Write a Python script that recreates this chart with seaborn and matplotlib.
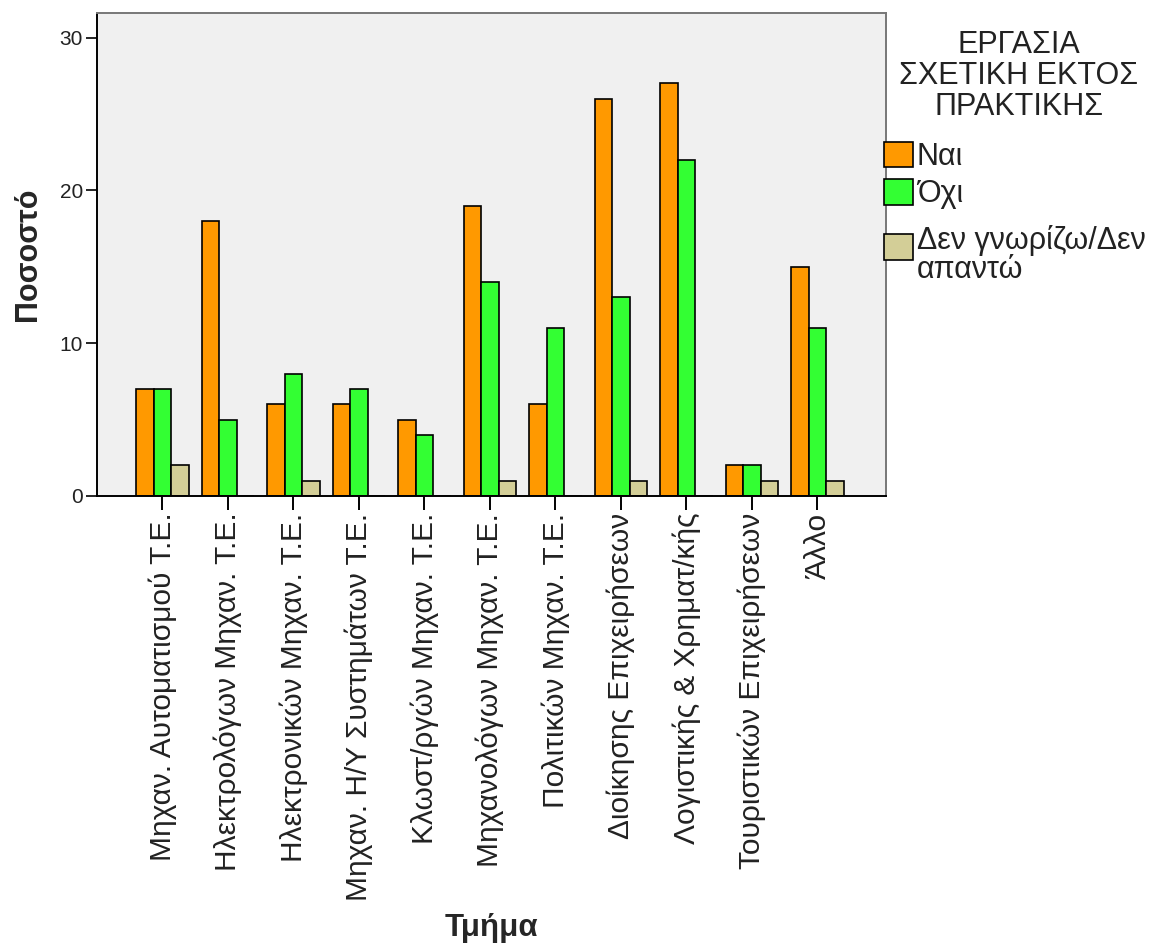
import matplotlib
matplotlib.use("Agg")
import matplotlib.pyplot as plt
import matplotlib.transforms as mtransforms
import seaborn as sns
import pandas as pd

departments = [
    "Μηχαν. Αυτοματισμού Τ.Ε.",
    "Ηλεκτρολόγων Μηχαν. Τ.Ε.",
    "Ηλεκτρονικών Μηχαν. Τ.Ε.",
    "Μηχαν. Η/Υ Συστημάτων Τ.Ε.",
    "Κλωστ/ργών Μηχαν. Τ.Ε.",
    "Μηχανολόγων Μηχαν. Τ.Ε.",
    "Πολιτικών Μηχαν. Τ.Ε.",
    "Διοίκησης Επιχειρήσεων",
    "Λογιστικής & Χρηματ/κής",
    "Τουριστικών Επιχειρήσεων",
    "Άλλο",
]
answers = ["Ναι", "Όχι", "Δεν γνωρίζω/Δεν\nαπαντώ"]
legend_title = "ΕΡΓΑΣΙΑ\nΣΧΕΤΙΚΗ ΕΚΤΟΣ\nΠΡΑΚΤΙΚΗΣ"

yes_pct = [7, 18, 6, 6, 5, 19, 6, 26, 27, 2, 15]
no_pct = [7, 5, 8, 7, 4, 14, 11, 13, 22, 2, 11]
dk_pct = [2, 0, 1, 0, 0, 1, 0, 1, 0, 1, 1]

colors = ["#FF9900", "#33FF33", "#D3CE97"]

rows = []
for series, vals in zip(answers, [yes_pct, no_pct, dk_pct]):
    for dep, v in zip(departments, vals):
        rows.append({"Τμήμα": dep, "Απάντηση": series, "Ποσοστό": v})
df = pd.DataFrame(rows)

sns.set_style("white")
plt.rcParams["font.family"] = ["Liberation Sans", "DejaVu Sans"]

fig = plt.figure(figsize=(11.54, 9.44), dpi=100)
ax = fig.add_axes([0.084, 0.4746, 0.684, 0.5114])
ax.set_facecolor("#F0F0F0")

sns.barplot(
    data=df, x="Τμήμα", y="Ποσοστό", hue="Απάντηση",
    order=departments, hue_order=answers, palette=colors, saturation=1,
    edgecolor="black", linewidth=1.2, width=0.8, ax=ax,
)

ax.set_xlim(-1.0, 11.05)
ax.set_ylim(0, 31.6)
ax.set_yticks([0, 10, 20, 30])
ax.tick_params(axis="y", labelsize=15, length=8, width=1.2, color="black",
               direction="out", left=True, pad=2, labelcolor="#222222")
ax.tick_params(axis="x", labelsize=21.5, length=10, width=1.4, color="black",
               direction="out", bottom=True, pad=2, labelcolor="#222222")
plt.setp(ax.get_xticklabels(), rotation=90, ha="center", va="top")

for side in ["left", "bottom"]:
    ax.spines[side].set_color("black")
    ax.spines[side].set_linewidth(1.4)
for side in ["top", "right"]:
    ax.spines[side].set_color("#777777")
    ax.spines[side].set_linewidth(1.4)

ax.set_xlabel("Τμήμα", fontsize=22.5, fontweight="bold", labelpad=9)
ax.set_ylabel("Ποσοστό", fontsize=22, fontweight="bold", labelpad=12)

# Legend entries, with the heading drawn as a centred block above them
handles, labels = ax.get_legend_handles_labels()
leg = ax.legend(
    handles, labels,
    loc="upper left", bbox_to_anchor=(0.9975, 0.734),
    frameon=False, fontsize=22,
    handlelength=0.95, handleheight=0.92, handletextpad=0.12,
    labelspacing=0.22, borderaxespad=0, borderpad=0,
)
for t in leg.get_texts():
    t.set_color("#222222")
    t.set_linespacing(0.95)
# the two-line entry hangs below its swatch
last = leg.get_texts()[-1]
last.set_transform(last.get_transform()
                   + mtransforms.ScaledTranslation(0, -9 / 100, fig.dpi_scale_trans))

fig.text(1019 / 1154, 1 - 30 / 944, legend_title, ha="center", va="top",
         fontsize=22, color="#222222", linespacing=1.05,
         multialignment="center")

fig.savefig("out.png", dpi=100)
